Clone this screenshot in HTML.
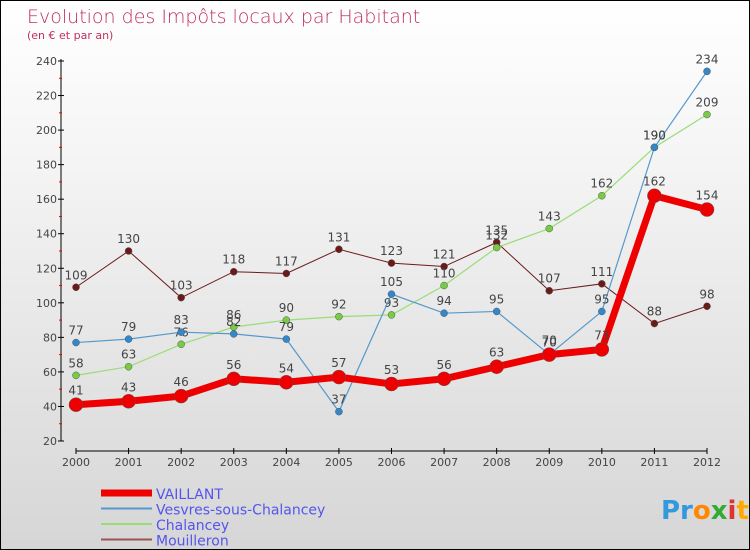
<!DOCTYPE html>
<html><head><meta charset="utf-8"><style>
body{margin:0}
#c{width:750px;height:550px;position:relative;box-sizing:border-box;border:1px solid #000;background:linear-gradient(#fff,#f4f4f4 30%,#d6d6d6);font-family:"DejaVu Sans","Liberation Sans",sans-serif;overflow:hidden}
svg text{font-family:"DejaVu Sans","Liberation Sans",sans-serif}
</style></head><body>
<div id="c">
<svg id="s" width="750" height="550">
<text x="26" y="22" font-size="19" fill="#c0305a" style="font-weight:200">Evolution des Impôts locaux par Habitant</text>
<text x="26" y="38" font-size="11" fill="#c0305a">(en € et par an)</text>
<text x="660" y="518" font-size="26" font-weight="bold" fill="#3399dd">Pr<tspan fill="#ff8800">o</tspan><tspan fill="#33aa33">x</tspan><tspan fill="#dd3333">i</tspan><tspan fill="#ffaa00">t</tspan><tspan fill="#3399dd">i</tspan></text>
</svg>
</div>
<script>
const years=[2000,2001,2002,2003,2004,2005,2006,2007,2008,2009,2010,2011,2012];
const yTicks=[20,40,60,80,100,120,140,160,180,200,220,240];
const vaillant=[41,43,46,56,54,57,53,56,63,70,73,162,154];
const vesvres=[77,79,83,82,79,37,105,94,95,70,95,190,234];
const chalancey=[58,63,76,86,90,92,93,110,132,143,162,190,209];
const mouilleron=[109,130,103,118,117,131,123,121,135,107,111,88,98];
const names=["VAILLANT","Vesvres-sous-Chalancey","Chalancey","Mouilleron"];
const s=document.getElementById('s');const NS='http://www.w3.org/2000/svg';
function X(i){return 75+i*(706-75)/12}
function Y(v){return 440-(v-20)*380/220}
function mk(t,a,txt){const e=document.createElementNS(NS,t);for(const k in a)e.setAttribute(k,a[k]);if(txt!==undefined)e.textContent=txt;s.appendChild(e);return e}
let e=mk('line',{x1:60,y1:58,x2:60,y2:440,stroke:'#000'});

e=mk('line',{x1:75,y1:450,x2:706,y2:450,stroke:'#000'});

yTicks.forEach((v,i)=>{mk('line',{x1:57,y1:Y(v),x2:63,y2:Y(v),stroke:'#000'});
if(i<yTicks.length-1)mk('line',{x1:58,y1:Y(v+10),x2:61,y2:Y(v+10),stroke:'#e00'});
e=mk('text',{x:56,y:Y(v)+4,'font-size':11,fill:'#444','text-anchor':'end'},v);
});
years.forEach((y,i)=>{mk('line',{x1:X(i),y1:447,x2:X(i),y2:453,stroke:'#000'});
e=mk('text',{x:X(i),y:465,'font-size':11,fill:'#444','text-anchor':'middle'},y);
});
const series=[[mouilleron,'#6b1a1a',1,3.5,'mouilleron'],[chalancey,'#99dd77',1.2,3.5,'chalancey'],[vesvres,'#5599cc',1.2,3.5,'vesvres'],[vaillant,'#ee0000',7,7,'vaillant']];
const fills={mouilleron:'#6b1a1a',chalancey:'#77cc44',vesvres:'#3388cc',vaillant:'#ee0000'};
series.forEach(([d,c,w,r,n])=>{
e=mk('polyline',{points:d.map((v,i)=>X(i)+','+Y(v)).join(' '),fill:'none',stroke:c,'stroke-width':w});

d.forEach((v,i)=>{e=mk('circle',{cx:X(i),cy:Y(v),r:r,fill:fills[n],stroke:'#555','stroke-width':0.5});

e=mk('text',{x:X(i),y:Y(v)-(n==='vaillant'?10:8),'font-size':12,fill:'#444','text-anchor':'middle'},v);
});
});
const lg=[['#ee0000',7],['#5599cc',2],['#99dd77',2],['#995555',2]];
names.forEach((n,i)=>{const y=492+i*15.5;
e=mk('line',{x1:100,y1:y,x2:151,y2:y,stroke:lg[i][0],'stroke-width':lg[i][1]});

e=mk('text',{x:155,y:y+6,'font-size':14,fill:'#5555ee'},n);
});
</script>
</body></html>
